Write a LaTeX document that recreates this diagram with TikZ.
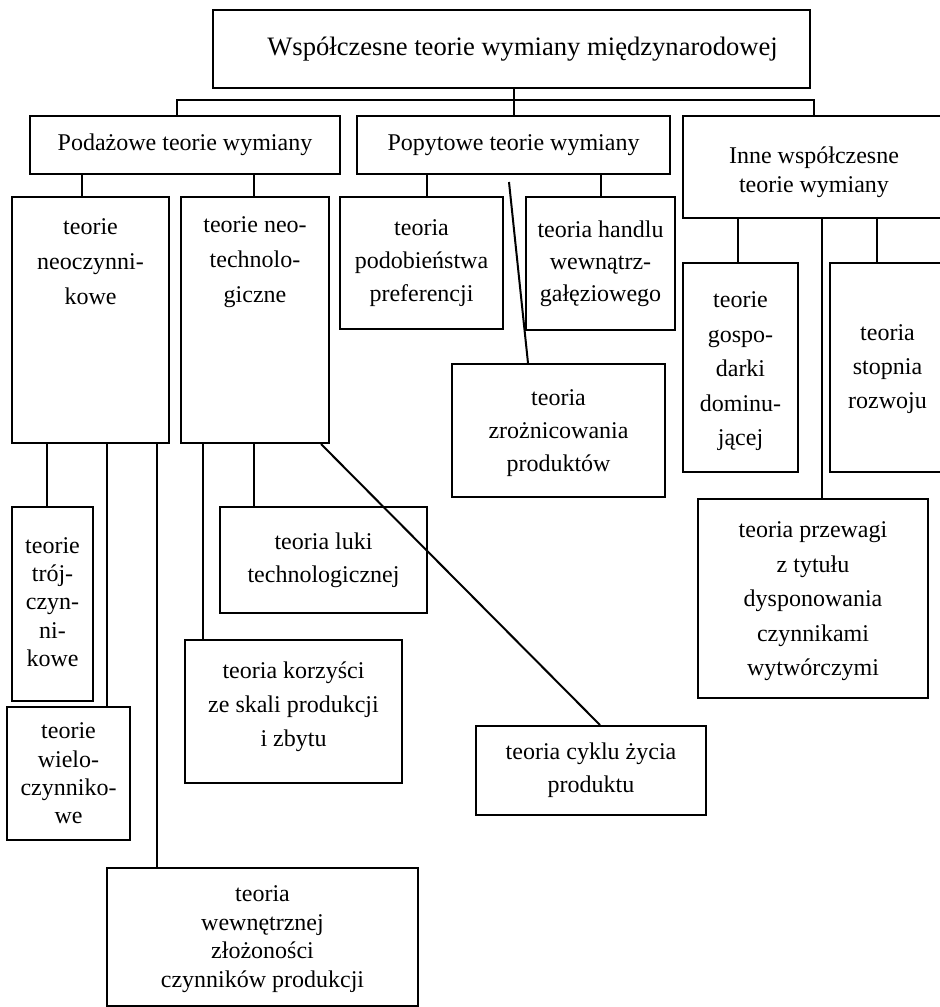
\documentclass[tikz,border=0pt]{standalone}
\usepackage{fontspec}
\setmainfont{Liberation Serif}
\newcommand\fs[1]{\fontsize{24}{#1}\selectfont}
% \bx[baselineskip]{name}{x1}{y1}{x2}{y2}{text dy}{text}
\newcommand\bx[8][28]{%
  \node[box, minimum width={(#5-#3)*1pt}, minimum height={(#6-#4)*1pt}]
    (#2) at ({(#3+#5)/2},{(#4+#6)/2}) {};
  \node[txt, font=\fs{#1}] (#2-t) at ([yshift={-(#7)*1pt}]#2.center) {#8};}
\begin{document}
\begin{tikzpicture}[x=1pt,y=-1pt,
  box/.style={draw, line width=2pt, inner sep=0pt, rectangle},
  txt/.style={inner sep=0pt, align=center},
  conn/.style={line width=2pt}]
\useasboundingbox (0,0) rectangle (940,1007);
\clip (0,0) rectangle (940,1007);
\fill[white] (0,0) rectangle (940,1007);
% boxes
\node[box, minimum width=597pt, minimum height=78pt] (top) at (511.5,49) {};
\node[txt, font=\fontsize{26.6}{30}\selectfont] (top-t) at (522.5,49) {Współczesne teorie wymiany międzynarodowej};
\bx{pod}{30}{116}{340}{174}{0}{Podażowe teorie wymiany}
\bx{pop}{357}{116}{670}{174}{0}{Popytowe teorie wymiany}
\bx[29]{inne}{683}{116}{945}{218}{5}{Inne współczesne\\teorie wymiany}
\bx[35]{neoc}{12}{197}{169}{443}{-58}{teorie\\neoczynni-\\kowe}
\bx[35]{neot}{181}{197}{329}{443}{-58}{teorie neo-\\technolo-\\giczne}
\bx[33]{podob}{340}{197}{503}{329}{0}{teoria\\podobieństwa\\preferencji}
\bx[32]{handlu}{526}{197}{675}{330}{0}{teoria handlu\\wewnątrz-\\gałęziowego}
\bx[33]{zroz}{452}{364}{665}{497}{3}{teoria\\zrożnicowania\\produktów}
\bx[34.5]{gosp}{683}{263}{798}{472}{4}{teorie\\gospo-\\darki\\dominu-\\jącej}
\bx[34]{stop}{830}{263}{945}{472}{2}{teoria\\stopnia\\rozwoju}
\bx[34.5]{przew}{698}{499}{928}{698}{3}{teoria przewagi\\z tytułu\\dysponowania\\czynnikami\\wytwórczymi}
\bx[28.3]{troj}{12}{507}{93}{701}{-2}{teorie\\trój-\\czyn-\\ni-\\kowe}
\bx[28.3]{wielo}{7}{707}{130}{840}{0}{teorie\\wielo-\\czynniko-\\we}
\bx[28.5]{wewn}{107}{868}{418}{1006}{2}{teoria\\wewnętrznej\\złożoności\\czynników produkcji}
\bx[33]{luki}{220}{507}{427}{613}{0}{teoria luki\\technologicznej}
\bx[34]{korz}{185}{640}{402}{783}{-5}{teoria korzyści\\ze skali produkcji\\i zbytu}
\bx[33]{cyklu}{476}{726}{706}{815}{0}{teoria cyklu życia\\produktu}
% connectors
\coordinate (b1) at (177,100);
\coordinate (b3) at (814,100);
\draw[conn] (pod.north -| b1) -- (b1) -- (b3) -- (inne.north -| b3);
\draw[conn] (top.south -| pop.north) -- (pop.north);
\draw[conn] (pod.south -| 82,0) -- (neoc.north -| 82,0);
\draw[conn] (pod.south -| 254,0) -- (neot.north -| 254,0);
\draw[conn] (pop.south -| 427,0) -- (podob.north -| 427,0);
\draw[conn] (pop.south -| 601,0) -- (handlu.north -| 601,0);
\coordinate (ps) at (509,182);
\draw[conn] (ps) -- (zroz.north -| 528,0);
\draw[conn] (inne.south -| 738,0) -- (gosp.north -| 738,0);
\draw[conn] (inne.south -| 877,0) -- (stop.north -| 877,0);
\draw[conn] (inne.south -| 822,0) -- (przew.north -| 822,0);
\draw[conn] (neoc.south -| 47,0) -- (troj.north -| 47,0);
\draw[conn] (neoc.south -| 107,0) -- (wielo.north -| 107,0);
\draw[conn] (neoc.south -| 157,0) -- (wewn.north -| 157,0);
\draw[conn] (neot.south -| 203,0) -- (korz.north -| 203,0);
\draw[conn] (neot.south -| 254,0) -- (luki.north -| 254,0);
\draw[conn] ([xshift=-9pt]neot.south east) -- (cyklu.north -| 600,0);
\end{tikzpicture}
\end{document}
